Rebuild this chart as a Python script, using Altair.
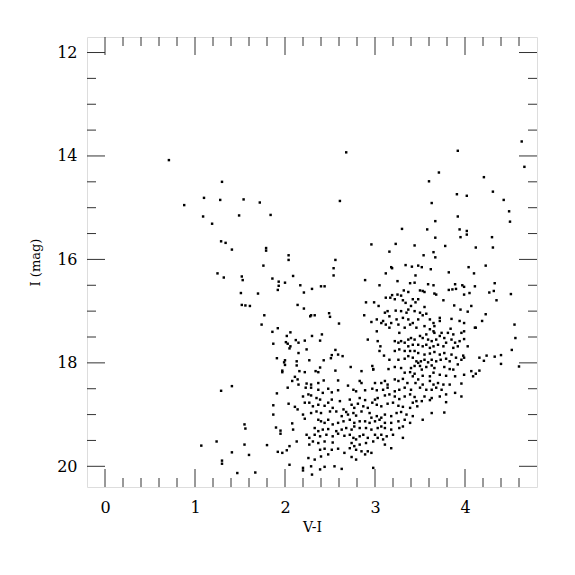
import altair as alt
import pandas as pd

# ---- sparse stars (outside the two dense clumps) ----
vi_sparse = [0.71, 2.68, 3.92, 4.63, 4.66, 3.71, 4.21, 3.60, 1.30, 4.31, 3.91, 4.02, 4.43, 2.61,
             1.10, 1.28, 1.54, 1.72, 0.88, 3.63, 4.49, 1.09, 1.49, 1.84, 3.92, 4.50, 3.67, 1.19,
             3.30, 3.58, 3.94, 4.02, 4.02, 3.95, 4.30, 3.67, 1.29, 1.34, 1.41, 1.79, 1.79, 2.96,
             3.23, 3.44, 3.78, 4.31, 4.12, 3.16, 3.65, 3.67, 3.54, 2.04, 2.04, 2.56, 1.76, 3.18,
             3.19, 3.34, 3.41, 3.48, 3.52, 4.04, 4.23, 2.54, 3.62, 1.25, 1.32, 1.52, 1.53, 1.86,
             1.93, 2.00, 1.93, 1.92, 2.09, 2.54, 3.12, 3.45, 3.82, 4.10, 2.89, 4.11, 4.33, 4.32,
             4.27, 4.51, 4.35, 2.17, 2.30, 2.21, 2.40, 2.44, 1.51, 1.70, 1.52, 1.56, 1.61, 1.77,
             1.74, 2.14, 2.21, 2.29, 2.33, 2.28, 2.49, 2.50, 2.60, 2.88, 1.86, 1.92, 1.87, 2.02,
             2.06, 2.01, 2.03, 2.06, 2.05, 2.12, 2.15, 2.15, 2.22, 2.30, 2.39, 2.41, 2.24, 2.27,
             2.43, 2.56, 2.52, 2.51, 2.59, 2.64, 1.91, 2.00, 1.99, 2.00, 2.13, 2.13, 1.97, 1.97,
             2.39, 2.73, 1.91, 1.29, 1.41, 1.87, 1.87, 1.90, 1.95, 1.95, 1.92, 1.97, 1.80, 1.55,
             1.56, 1.55, 1.60, 1.41, 1.24, 1.07, 1.30, 1.30, 1.47, 1.67, 2.20, 2.30, 2.39, 3.77,
             3.63, 3.53, 4.55, 4.56, 4.52, 4.40, 4.40, 4.33, 4.60, 4.24, 4.16, 4.21, 4.16, 4.12,
             4.23, 4.19, 4.12]
i_sparse = [14.08, 13.93, 13.90, 13.72, 14.21, 14.32, 14.41, 14.49, 14.50, 14.69, 14.74, 14.77, 14.85, 14.87,
            14.81, 14.85, 14.84, 14.90, 14.95, 14.91, 15.07, 15.17, 15.15, 15.14, 15.17, 15.27, 15.26, 15.31,
            15.41, 15.42, 15.42, 15.45, 15.52, 15.57, 15.57, 15.58, 15.65, 15.68, 15.81, 15.78, 15.83, 15.71,
            15.70, 15.73, 15.74, 15.77, 15.77, 15.85, 15.86, 15.96, 15.92, 15.92, 16.01, 16.01, 16.12, 16.15,
            16.17, 16.11, 16.14, 16.12, 16.15, 16.15, 16.12, 16.17, 16.19, 16.27, 16.35, 16.33, 16.40, 16.37,
            16.43, 16.45, 16.51, 16.59, 16.32, 16.31, 16.27, 16.31, 16.25, 16.27, 16.40, 16.52, 16.46, 16.61,
            16.64, 16.67, 16.79, 16.50, 16.57, 16.64, 16.52, 16.52, 16.65, 16.66, 16.88, 16.89, 16.90, 17.08,
            17.26, 16.88, 16.95, 17.08, 17.08, 17.10, 17.04, 17.11, 17.24, 17.08, 17.40, 17.33, 17.63, 17.48,
            17.41, 17.60, 17.63, 17.68, 17.72, 17.56, 17.61, 17.81, 17.57, 17.48, 17.57, 17.45, 17.74, 17.95,
            17.95, 17.75, 17.85, 17.91, 17.84, 17.87, 17.91, 17.95, 17.99, 18.04, 17.97, 18.05, 18.15, 18.18,
            18.09, 18.08, 18.59, 18.54, 18.45, 18.82, 19.00, 19.25, 19.31, 19.37, 19.72, 19.74, 19.59, 19.19,
            19.27, 19.58, 19.78, 19.73, 19.52, 19.60, 19.89, 19.95, 20.13, 20.12, 20.08, 20.16, 20.06, 18.96,
            18.97, 19.10, 17.26, 17.52, 17.75, 17.85, 18.02, 17.88, 18.07, 17.86, 17.90, 17.96, 18.15, 18.21,
            17.06, 17.19, 17.32]

# ---- upper red clump / RGB region ----
vi_upper = [3.25, 3.39, 3.44, 3.59, 3.65, 3.89, 3.97, 3.99, 3.05, 3.50, 3.53, 3.55, 3.82, 3.86, 3.90,
            3.32, 3.37, 3.25, 3.19, 3.29, 3.12, 3.68, 3.66, 3.99, 4.05, 2.90, 2.99, 3.04, 3.17, 3.22,
            3.31, 3.34, 3.42, 3.45, 3.48, 3.76, 3.88, 3.95, 4.07, 4.03, 3.55, 3.40, 3.37, 3.29, 3.23,
            3.35, 3.44, 3.50, 3.53, 3.57, 3.11, 3.14, 3.16, 3.09, 2.96, 3.02, 3.18, 3.24, 3.26, 3.31,
            3.37, 3.39, 3.42, 3.48, 3.61, 3.65, 3.72, 3.72, 3.85, 3.94, 3.99, 3.84, 3.66, 3.55, 3.46,
            3.33, 3.27, 3.16, 3.12, 3.07, 3.02, 3.61, 3.65, 3.66, 3.74, 3.81, 3.87, 3.96, 3.99, 4.11,
            2.92, 3.03, 3.06, 3.05, 3.22, 3.26, 3.29, 3.33, 3.37, 3.40, 3.44, 3.50, 3.53, 3.57, 3.59,
            3.63, 3.68, 3.72, 3.77, 3.85, 3.89, 3.94, 3.99, 3.37, 3.42, 3.48, 3.53, 3.57, 3.61, 3.65,
            3.70, 3.76, 3.79, 3.87, 3.92, 4.03, 3.22, 3.27, 3.33, 3.39, 3.44, 3.48, 3.55, 3.61, 3.66,
            3.72, 3.77, 3.10, 3.16, 3.26, 3.33, 3.37, 3.42, 3.46, 3.48, 3.51, 3.55, 3.59, 3.63, 3.68,
            3.73, 3.79, 3.83, 3.85, 3.90, 3.96, 3.98, 3.99, 2.97, 2.98, 3.15, 3.22, 3.29, 3.40, 3.44,
            3.50, 3.52, 3.57, 3.63, 3.66, 3.77, 3.83, 3.87, 3.92, 4.07, 3.53, 3.61, 3.65, 3.72, 3.79,
            3.89, 3.99, 4.09, 3.53, 3.61, 3.65, 3.70, 3.76, 3.83, 3.96, 3.50, 3.57, 3.63, 3.68, 3.74,
            3.55, 3.63, 3.72, 3.79, 3.89, 3.52, 3.61, 3.79, 3.96]
i_upper = [16.42, 16.46, 16.45, 16.48, 16.50, 16.48, 16.50, 16.53, 16.50, 16.60, 16.61, 16.63, 16.59, 16.58, 16.57,
           16.60, 16.63, 16.68, 16.69, 16.70, 16.74, 16.68, 16.66, 16.68, 16.65, 16.83, 16.83, 16.90, 16.74, 16.77,
           16.79, 16.84, 16.77, 16.83, 16.77, 16.79, 16.89, 16.97, 16.90, 17.01, 16.92, 16.90, 16.97, 17.00, 16.99,
           17.03, 17.00, 17.03, 17.08, 17.05, 17.03, 17.00, 17.10, 17.19, 17.21, 17.16, 17.23, 17.16, 17.26, 17.13,
           17.16, 17.26, 17.23, 17.16, 17.16, 17.23, 17.13, 17.19, 17.15, 17.19, 17.23, 17.34, 17.29, 17.29, 17.32,
           17.32, 17.42, 17.32, 17.26, 17.23, 17.39, 17.35, 17.39, 17.42, 17.42, 17.42, 17.45, 17.42, 17.39, 17.32,
           17.55, 17.58, 17.68, 17.77, 17.58, 17.61, 17.58, 17.61, 17.55, 17.52, 17.55, 17.48, 17.52, 17.45, 17.55,
           17.58, 17.55, 17.48, 17.52, 17.55, 17.61, 17.58, 17.54, 17.68, 17.65, 17.65, 17.68, 17.65, 17.71, 17.68,
           17.65, 17.68, 17.61, 17.71, 17.68, 17.68, 17.77, 17.74, 17.77, 17.77, 17.77, 17.81, 17.84, 17.82, 17.79,
           17.84, 17.81, 17.86, 17.94, 17.94, 17.92, 17.87, 17.90, 17.97, 18.00, 17.97, 17.94, 17.99, 17.94, 17.97,
           17.94, 17.92, 17.97, 17.84, 17.90, 17.94, 17.86, 17.90, 18.06, 18.12, 18.12, 18.08, 18.10, 18.10, 18.06,
           18.06, 18.13, 18.08, 18.05, 18.10, 18.08, 18.12, 18.13, 18.03, 18.16, 18.25, 18.26, 18.19, 18.23, 18.25,
           18.26, 18.23, 18.26, 18.42, 18.35, 18.42, 18.39, 18.42, 18.42, 18.40, 18.48, 18.52, 18.52, 18.48, 18.52,
           18.65, 18.68, 18.65, 18.61, 18.58, 18.74, 18.72, 18.76, 18.65]

# ---- lower main-sequence / turn-off region ----
vi_lower = [2.16, 2.22, 2.34, 2.37, 2.56, 2.85, 2.98, 3.33, 3.39, 3.44, 3.42, 2.11, 2.08, 2.14, 2.15,
            2.29, 2.24, 2.37, 2.43, 2.59, 2.70, 2.83, 2.85, 3.00, 3.07, 3.11, 3.14, 3.22, 3.26, 3.31,
            3.36, 3.45, 3.48, 2.03, 2.23, 2.29, 2.37, 2.42, 2.48, 2.52, 2.59, 2.76, 2.79, 2.89, 2.97,
            3.02, 3.09, 3.14, 3.22, 3.27, 3.33, 3.40, 2.26, 2.29, 2.35, 2.20, 2.39, 2.52, 2.61, 2.72,
            2.83, 2.89, 3.00, 3.03, 3.11, 3.16, 3.22, 3.27, 3.33, 3.39, 3.44, 3.46, 2.04, 2.11, 2.14,
            2.22, 2.27, 2.31, 2.37, 2.44, 2.48, 2.53, 2.57, 2.65, 2.68, 2.74, 2.77, 2.81, 2.87, 2.92,
            2.97, 3.02, 3.07, 3.14, 3.20, 3.26, 3.31, 3.39, 3.42, 3.47, 2.20, 2.29, 2.35, 2.40, 2.50,
            2.63, 2.70, 2.76, 2.79, 2.85, 2.94, 2.96, 3.02, 3.07, 3.11, 3.18, 3.24, 3.29, 3.35, 3.42,
            2.22, 2.37, 2.40, 2.44, 2.48, 2.53, 2.59, 2.65, 2.72, 2.77, 2.83, 2.89, 2.94, 3.00, 3.05,
            3.11, 3.18, 3.26, 3.33, 3.39, 2.08, 2.09, 2.33, 2.37, 2.42, 2.48, 2.57, 2.63, 2.68, 2.74,
            2.77, 2.83, 2.90, 2.96, 3.03, 3.07, 3.11, 3.18, 3.27, 3.31, 2.24, 2.27, 2.31, 2.33, 2.39,
            2.46, 2.53, 2.59, 2.66, 2.72, 2.76, 2.79, 2.83, 2.87, 2.92, 3.00, 3.03, 3.07, 3.09, 3.13,
            3.20, 3.31, 2.13, 2.27, 2.37, 2.44, 2.53, 2.74, 2.77, 2.83, 2.90, 2.98, 3.11, 3.18, 2.05,
            2.02, 2.39, 2.44, 2.52, 2.59, 2.72, 2.79, 2.85, 2.92, 2.26, 2.33, 2.40, 2.48, 2.66, 2.74,
            2.79, 2.89, 2.96, 2.05, 2.20, 2.29, 2.44, 2.55, 2.63, 2.98]
i_lower = [18.16, 18.18, 18.16, 18.18, 18.15, 18.16, 18.13, 18.19, 18.18, 18.21, 18.26, 18.27, 18.35, 18.32, 18.42,
           18.42, 18.40, 18.39, 18.34, 18.34, 18.44, 18.35, 18.39, 18.39, 18.39, 18.35, 18.42, 18.32, 18.35, 18.31,
           18.39, 18.39, 18.32, 18.48, 18.48, 18.48, 18.52, 18.58, 18.50, 18.57, 18.53, 18.52, 18.55, 18.53, 18.50,
           18.53, 18.52, 18.48, 18.55, 18.52, 18.48, 18.52, 18.61, 18.63, 18.68, 18.65, 18.71, 18.71, 18.74, 18.71,
           18.68, 18.72, 18.71, 18.68, 18.63, 18.61, 18.65, 18.70, 18.65, 18.61, 18.66, 18.74, 18.79, 18.85, 18.90,
           18.77, 18.77, 18.84, 18.81, 18.83, 18.77, 18.87, 18.94, 18.90, 18.95, 18.81, 18.87, 18.79, 18.84, 18.87,
           18.77, 18.81, 18.84, 18.79, 18.77, 18.83, 18.85, 18.87, 18.77, 18.84, 19.00, 18.97, 18.94, 18.97, 18.94,
           19.03, 19.00, 18.97, 19.02, 18.94, 18.97, 19.06, 19.03, 19.06, 19.00, 19.03, 18.97, 18.95, 19.00, 19.03,
           19.08, 19.10, 19.13, 19.16, 19.10, 19.19, 19.16, 19.13, 19.10, 19.16, 19.13, 19.13, 19.16, 19.13, 19.10,
           19.16, 19.16, 19.13, 19.10, 19.16, 19.17, 19.29, 19.26, 19.32, 19.29, 19.28, 19.32, 19.29, 19.26, 19.29,
           19.23, 19.26, 19.26, 19.29, 19.26, 19.23, 19.26, 19.29, 19.26, 19.23, 19.39, 19.45, 19.52, 19.39, 19.42,
           19.39, 19.42, 19.37, 19.41, 19.39, 19.45, 19.48, 19.42, 19.39, 19.45, 19.39, 19.45, 19.39, 19.48, 19.42,
           19.39, 19.45, 19.52, 19.58, 19.55, 19.52, 19.54, 19.55, 19.61, 19.58, 19.55, 19.52, 19.58, 19.65, 19.61,
           19.69, 19.68, 19.66, 19.68, 19.66, 19.65, 19.68, 19.71, 19.71, 19.84, 19.87, 19.81, 19.77, 19.74, 19.82,
           19.87, 19.77, 19.74, 19.97, 20.03, 20.00, 20.01, 20.00, 20.05, 20.03]

# axis tick values
x_major = [0, 1, 2, 3, 4]
x_minor = [0.2, 0.4, 0.6, 0.8, 1.2, 1.4, 1.6, 1.8, 2.2, 2.4, 2.6, 2.8,
           3.2, 3.4, 3.6, 3.8, 4.2, 4.4, 4.6]
y_major = [12, 14, 16, 18, 20]
y_minor = [12.5, 13, 13.5, 14.5, 15, 15.5, 16.5, 17, 17.5, 18.5, 19, 19.5]

W, H = 450, 450
MAJ, MIN = 18, 9
FONT = "DejaVu Serif"
TICK_COLOR = "#333333"

stars = pd.DataFrame({
    "vi": vi_sparse + vi_upper + vi_lower,
    "imag": i_sparse + i_upper + i_lower,
})

xs = alt.Scale(domain=[-0.2, 4.8], nice=False, zero=False)
ys = alt.Scale(domain=[11.7, 20.4], nice=False, zero=False, reverse=True)

x_axis = alt.Axis(values=x_major, ticks=False, tickSize=0, domain=False, grid=False,
                  labelFont=FONT, labelFontSize=16, labelColor="#000000", labelPadding=12,
                  title="V-I", titleFont=FONT, titleFontSize=14, titleFontWeight="normal",
                  titleColor="#000000", titlePadding=5, format="d")
y_axis = alt.Axis(values=y_major, ticks=False, tickSize=0, domain=False, grid=False,
                  labelFont=FONT, labelFontSize=16, labelColor="#000000", labelPadding=10,
                  title="I (mag)", titleFont=FONT, titleFontSize=13, titleFontWeight="normal",
                  titleColor="#000000", titlePadding=14, format="d")

points = alt.Chart(stars).mark_square(size=6, color="black", opacity=1).encode(
    x=alt.X("vi:Q", scale=xs, axis=x_axis, title="V-I"),
    y=alt.Y("imag:Q", scale=ys, axis=y_axis, title="I (mag)"),
)

def xticks(vals, length):
    df = pd.DataFrame({"v": vals})
    base = alt.Chart(df).mark_rule(color=TICK_COLOR, strokeWidth=1)
    enc_x = alt.X("v:Q", scale=xs, axis=x_axis, title="V-I")
    bottom = base.encode(x=enc_x, y=alt.value(H), y2=alt.value(H - length))
    top = base.encode(x=enc_x, y=alt.value(0), y2=alt.value(length))
    return [bottom, top]

def yticks(vals, length):
    df = pd.DataFrame({"v": vals})
    base = alt.Chart(df).mark_rule(color=TICK_COLOR, strokeWidth=1)
    enc_y = alt.Y("v:Q", scale=ys, axis=y_axis, title="I (mag)")
    left = base.encode(y=enc_y, x=alt.value(0), x2=alt.value(length))
    right = base.encode(y=enc_y, x=alt.value(W), x2=alt.value(W - length))
    return [left, right]

layers = [points] + xticks(x_major, MAJ) + xticks(x_minor, MIN) + yticks(y_major, MAJ) + yticks(y_minor, MIN)

chart = alt.layer(*layers).properties(
    width=W, height=H,
    autosize=alt.AutoSizeParams(type="none"),
    padding={"left": 79, "top": 29, "right": 30, "bottom": 80},
).configure_view(
    stroke=TICK_COLOR, strokeWidth=1
).configure(background="white")

chart.save("out.html", embed_options={"renderer": "svg", "actions": False})
